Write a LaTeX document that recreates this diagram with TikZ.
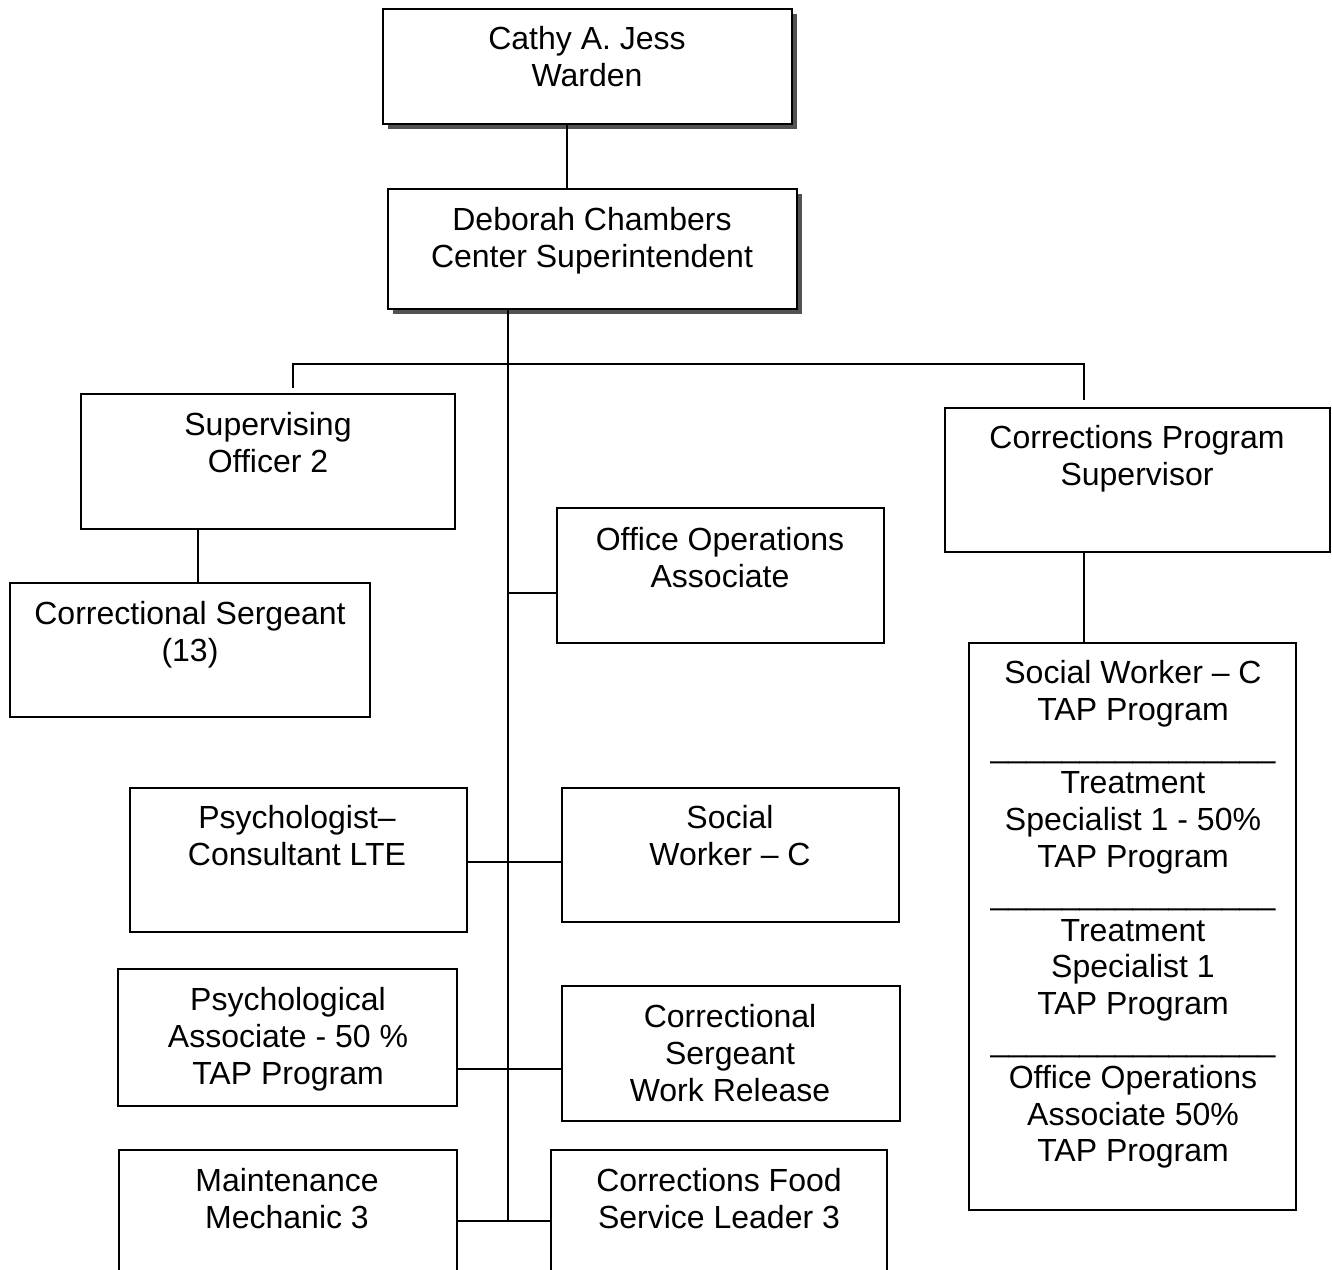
\documentclass[tikz,border=0pt]{standalone}
\usepackage{fontspec}
\setmainfont{Liberation Sans}
\usetikzlibrary{calc}
\newcommand\orgbox[6]{%
  \node[#1, minimum width={(#5)-(#3)}, minimum height={(#6)-(#4)}] (#2) at ({((#3)+(#5))/2},{((#4)+(#6))/2}) {};}
\begin{document}
\begin{tikzpicture}[x=1pt,y=-1pt,
  box/.style={draw=black, line width=1.8pt, fill=white, rectangle, inner sep=0pt},
  shadowbox/.style={box, line width=2pt,
    preaction={draw=none, fill=black!68, transform canvas={xshift=5pt,yshift=-5pt}}},
  txt/.style={anchor=north, inner sep=0pt, align=center, font=\fontsize{32}{36.8}\selectfont},
  conn/.style={line width=1.8pt}]
\useasboundingbox (0,0) rectangle (1332,1269);
\clip (0,0) rectangle (1332,1269);

% shadowed boxes
\orgbox{shadowbox}{warden}{383}{9}{792}{124}
\orgbox{shadowbox}{deborah}{388}{189}{797}{309}

% plain boxes
\orgbox{box}{supervising}{81}{394}{455}{529}
\orgbox{box}{sergeant}{10}{583}{370}{717}
\orgbox{box}{officeops}{557}{508}{884}{643}
\orgbox{box}{cps}{945}{408}{1330}{552}
\orgbox{box}{tap}{969}{643}{1296}{1210}
\orgbox{box}{psychologist}{130}{788}{467}{932}
\orgbox{box}{socialworker}{562}{788}{899}{922}
\orgbox{box}{psychological}{118}{969}{457}{1106}
\orgbox{box}{sergeantwr}{562}{986}{900}{1121}
\orgbox{box}{maintenance}{119}{1150}{457}{1300}
\orgbox{box}{food}{551}{1150}{887}{1300}

% texts
\node[txt] (warden-t) at (587,26) {Cathy A. Jess\\Warden};
\node[txt] (deborah-t) at (592,207) {Deborah Chambers\\Center Superintendent};
\node[txt] (supervising-t) at (268,412) {Supervising\\Officer 2};
\node[txt] (sergeant-t) at (190,601) {Correctional Sergeant\\(13)};
\node[txt] (officeops-t) at (720,527) {Office Operations\\Associate};
\node[txt] (cps-t) at (1137,425) {Corrections Program\\Supervisor};
\node[txt] (tap-t) at (1133,660) {Social Worker – C\\TAP Program\\\_\_\_\_\_\_\_\_\_\_\_\_\_\_\_\_\\Treatment\\Specialist 1 - 50\%\\TAP Program\\\_\_\_\_\_\_\_\_\_\_\_\_\_\_\_\_\\Treatment\\Specialist 1\\TAP Program\\\_\_\_\_\_\_\_\_\_\_\_\_\_\_\_\_\\Office Operations\\Associate 50\%\\TAP Program};
\node[txt] (psychologist-t) at (297,805) {Psychologist–\\Consultant LTE};
\node[txt] (socialworker-t) at (730,805) {Social\\Worker – C};
\node[txt] (psychological-t) at (288,987) {Psychological\\Associate - 50 \%\\TAP Program};
\node[txt] (sergeantwr-t) at (730,1004) {Correctional\\Sergeant\\Work Release};
\node[txt] (maintenance-t) at (287,1168) {Maintenance\\Mechanic 3};
\node[txt] (food-t) at (719,1168) {Corrections Food\\Service Leader 3};

% connectors
\coordinate (wd) at (567,0);
\draw[conn] (wd |- warden.south) -- (wd |- deborah.north);
\coordinate (trunk) at (508,0);
\coordinate (trunkend) at (508,1220);
\draw[conn] (deborah.south -| trunk) -- (trunkend);
\coordinate (barL) at (293,364);
\coordinate (barR) at (1084,364);
\coordinate (dropL) at (293,388);
\coordinate (dropR) at (1084,400);
\draw[conn] (dropL) -- (barL) -- (barR) -- (dropR);
\coordinate (ss) at (198,0);
\draw[conn] (ss |- supervising.south) -- (ss |- sergeant.north);
\coordinate (oo) at (508,593);
\draw[conn] (oo) -- (oo -| officeops.west);
\coordinate (r1) at (0,862);
\draw[conn] (psychologist.east |- r1) -- (socialworker.west |- r1);
\coordinate (r2) at (0,1069);
\draw[conn] (psychological.east |- r2) -- (sergeantwr.west |- r2);
\coordinate (r3) at (0,1221);
\draw[conn] (maintenance.east |- r3) -- (food.west |- r3);
\coordinate (ct) at (1084,0);
\draw[conn] (ct |- cps.south) -- (ct |- tap.north);
\end{tikzpicture}
\end{document}
